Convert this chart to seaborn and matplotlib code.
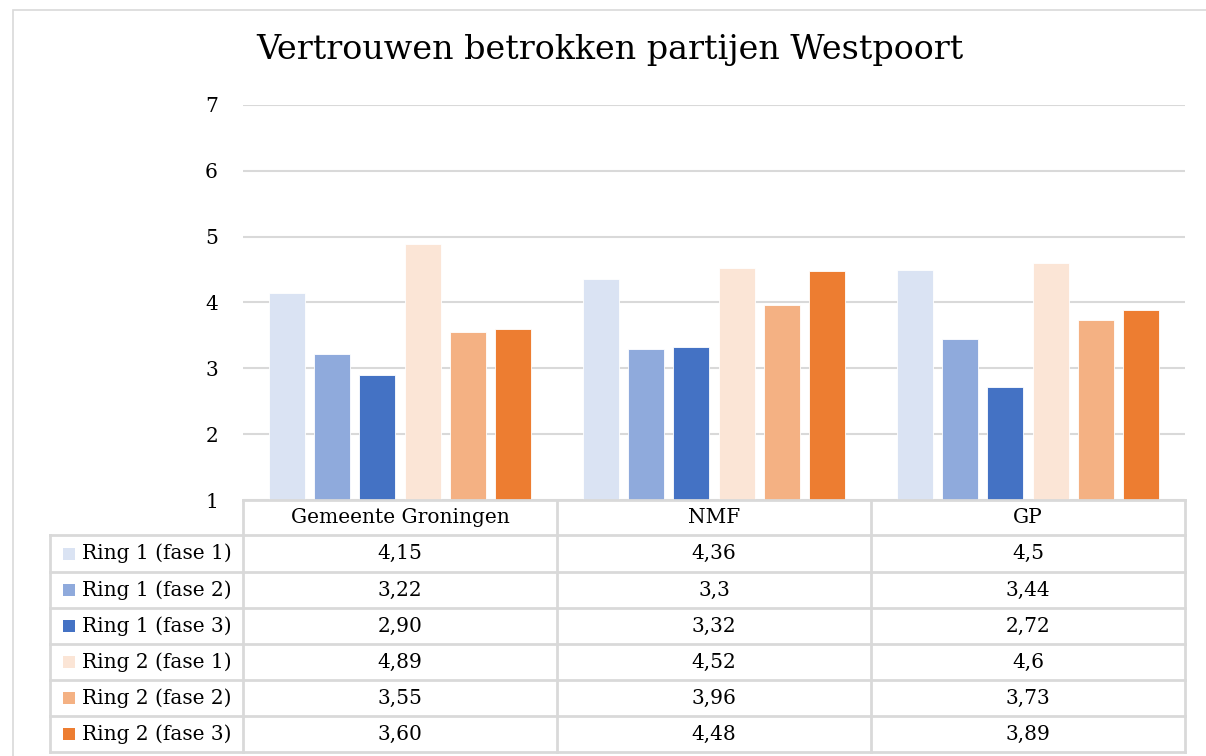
import matplotlib
matplotlib.use("Agg")
import matplotlib.pyplot as plt
import numpy as np
import pandas as pd
import seaborn as sns
from matplotlib.lines import Line2D
from matplotlib.patches import Rectangle

categories = ["Gemeente Groningen", "NMF", "GP"]
series = ["Ring 1 (fase 1)", "Ring 1 (fase 2)", "Ring 1 (fase 3)",
          "Ring 2 (fase 1)", "Ring 2 (fase 2)", "Ring 2 (fase 3)"]
ring1_fase1 = [4.15, 4.36, 4.5]
ring1_fase2 = [3.22, 3.3, 3.44]
ring1_fase3 = [2.90, 3.32, 2.72]
ring2_fase1 = [4.89, 4.52, 4.6]
ring2_fase2 = [3.55, 3.96, 3.73]
ring2_fase3 = [3.60, 4.48, 3.89]
# labels exactly as printed in the data table
table_labels = [["4,15", "4,36", "4,5"],
                ["3,22", "3,3", "3,44"],
                ["2,90", "3,32", "2,72"],
                ["4,89", "4,52", "4,6"],
                ["3,55", "3,96", "3,73"],
                ["3,60", "4,48", "3,89"]]
colors = ["#DAE3F3", "#8FAADC", "#4472C4", "#FBE5D6", "#F4B183", "#ED7D31"]

values = [ring1_fase1, ring1_fase2, ring1_fase3, ring2_fase1, ring2_fase2, ring2_fase3]
df = pd.DataFrame([(c, s, v[i]) for s, v in zip(series, values)
                   for i, c in enumerate(categories)],
                  columns=["partij", "groep", "score"])

W, H = 1206, 756
fig = plt.figure(figsize=(W / 100, H / 100), dpi=100)
serif = "DejaVu Serif"
grid_col = "#d9d9d9"
fs = 14.5


def fx(px):
    return px / W


def fy(py):
    return 1 - py / H


ax = fig.add_axes([fx(243), fy(500), fx(1185) - fx(243), fy(105) - fy(500)])
sns.barplot(data=df, x="partij", y="score", hue="groep", palette=colors,
            saturation=1, width=0.86, gap=0.2, edgecolor="white", linewidth=0.6,
            legend=False, ax=ax)
ax.set_ylim(1, 7)
ax.set_xlim(-0.5, 2.5)
ax.set_yticks(range(1, 8))
ax.set_yticklabels([str(t) for t in range(1, 8)], family=serif, fontsize=fs)
ax.tick_params(axis="y", length=0, pad=18)
ax.set_xticks([])
ax.set_xlabel("")
ax.set_ylabel("")
for s in ax.spines.values():
    s.set_visible(False)
ax.yaxis.grid(True, color=grid_col, linewidth=1.5)
ax.set_axisbelow(True)

fig.text(fx(610), fy(50), "Vertrouwen betrokken partijen Westpoort",
         family=serif, fontsize=24, ha="center", va="center")

# outer chart border
fig.add_artist(Rectangle((fx(13), fy(770)), fx(1220) - fx(13), fy(10) - fy(770),
                         transform=fig.transFigure, fill=False,
                         edgecolor="#d9d9d9", linewidth=1.2))

# data table
col_edges = [243, 557, 871, 1185]
row_edges = [500, 535, 572, 608, 644, 680, 716, 752]
lab_left = 50


def hline(y, x0, x1):
    fig.add_artist(Line2D([fx(x0), fx(x1)], [fy(y), fy(y)], color=grid_col, linewidth=2))


def vline(x, y0, y1):
    fig.add_artist(Line2D([fx(x), fx(x)], [fy(y0), fy(y1)], color=grid_col, linewidth=2))


hline(row_edges[0], col_edges[0], col_edges[-1])
for y in row_edges[1:]:
    hline(y, lab_left, col_edges[-1])
vline(lab_left, row_edges[1], row_edges[-1])
for x in col_edges:
    vline(x, row_edges[0], row_edges[-1])

for j, c in enumerate(categories):
    xc = (col_edges[j] + col_edges[j + 1]) / 2
    yc = (row_edges[0] + row_edges[1]) / 2
    fig.text(fx(xc), fy(yc), c, family=serif, fontsize=fs, ha="center", va="center")

for i, s in enumerate(series):
    yc = (row_edges[i + 1] + row_edges[i + 2]) / 2
    fig.add_artist(Rectangle((fx(63), fy(yc + 6)), fx(12), fy(0) - fy(12),
                             transform=fig.transFigure, facecolor=colors[i],
                             edgecolor="none"))
    fig.text(fx(82), fy(yc), s, family=serif, fontsize=fs, ha="left", va="center")
    for j in range(len(categories)):
        xc = (col_edges[j] + col_edges[j + 1]) / 2
        fig.text(fx(xc), fy(yc), table_labels[i][j], family=serif, fontsize=fs,
                 ha="center", va="center")

fig.savefig("out.png", dpi=100)
